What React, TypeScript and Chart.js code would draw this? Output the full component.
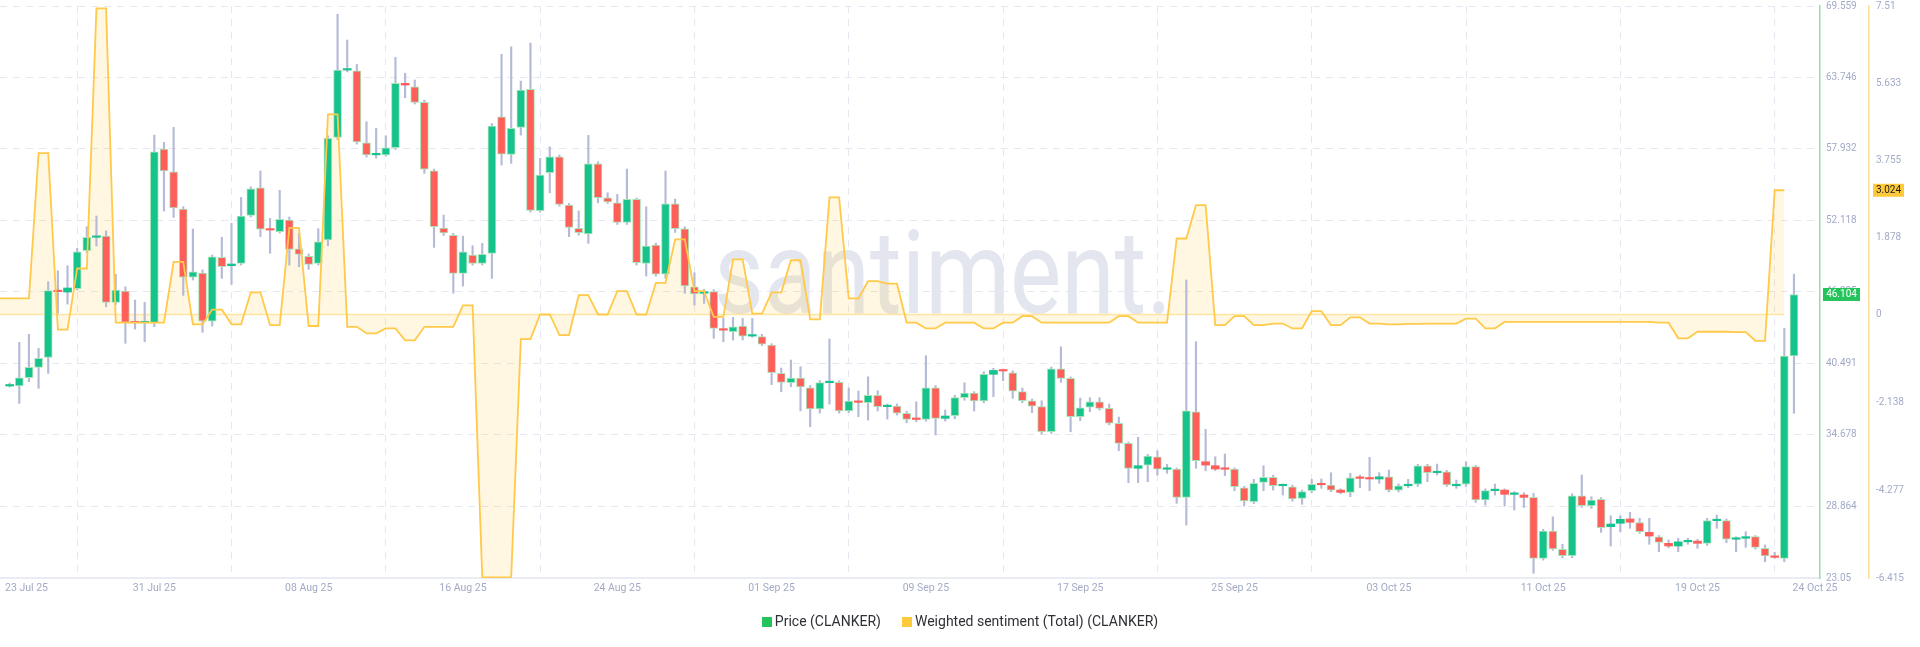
import React, { useEffect, useRef } from 'react';
import { Chart, registerables } from 'chart.js';

Chart.register(...registerables);

// ---- X axis (12h steps counted from 23 Jul 25 00:00) ----
const xTickValues = [0, 16, 32, 48, 64, 80, 96, 112, 128, 144, 160, 176];
const xTickLabels = ['23 Jul 25', '31 Jul 25', '08 Aug 25', '16 Aug 25', '24 Aug 25', '01 Sep 25', '09 Sep 25', '17 Sep 25', '25 Sep 25', '03 Oct 25', '11 Oct 25', '19 Oct 25'];
const lastDateLabel = '24 Oct 25';
const X_MAX = 188.7;

// ---- Y ticks ----
const priceTicks = [23.05, 28.864, 34.678, 40.491, 46.305, 52.118, 57.932, 63.746, 69.559];
const sentimentTicks = [-6.415, -4.277, -2.138, 0, 1.878, 3.755, 5.633, 7.51];

// ---- Price (CLANKER), 12h candles starting 23 Jul 25 12:00 ----
const opens = [
  38.66, 38.66, 39.33, 40.18, 40.99, 46.41, 46.30, 46.57, 49.66, 50.75,
  50.85, 45.46, 46.38, 43.84, 43.80, 43.80, 57.93, 56.08, 53.05, 47.52,
  47.85, 43.94, 49.12, 48.44, 48.63, 52.54, 54.78, 51.42, 51.20, 52.15,
  49.82, 49.20, 48.63, 50.53, 58.88, 64.35, 64.29, 58.44, 57.46, 57.46,
  58.03, 63.27, 62.99, 61.72, 56.16, 51.50, 50.91, 47.82, 49.31, 48.63,
  49.45, 60.55, 57.49, 59.69, 62.78, 52.91, 56.00, 57.30, 53.37, 51.48,
  51.02, 56.73, 53.97, 53.56, 51.97, 53.84, 48.63, 50.12, 47.76, 53.48,
  51.45, 46.73, 46.20, 46.33, 43.27, 43.07, 43.54, 42.72, 42.67, 41.99,
  39.69, 38.93, 39.31, 38.52, 36.79, 38.93, 38.96, 36.63, 37.44, 37.30,
  37.90, 36.98, 37.03, 36.44, 35.99, 35.95, 38.52, 36.03, 36.24, 37.71,
  38.09, 37.44, 39.61, 39.93, 39.74, 38.20, 37.46, 36.98, 34.94, 40.06,
  39.28, 36.16, 36.95, 37.38, 36.84, 35.63, 34.00, 31.97, 32.23, 32.91,
  31.89, 31.91, 29.61, 36.57, 32.50, 32.18, 31.91, 31.91, 30.39, 29.25,
  30.83, 31.24, 30.55, 30.47, 29.53, 30.15, 30.69, 30.61, 30.20, 30.01,
  31.20, 31.15, 31.10, 31.28, 30.20, 30.55, 30.67, 32.18, 31.61, 31.69,
  30.55, 30.67, 32.10, 29.39, 30.15, 30.20, 29.85, 29.80, 29.61, 24.65,
  26.87, 25.38, 24.86, 29.74, 28.93, 29.45, 27.22, 27.50, 27.85, 27.55,
  26.76, 26.40, 25.87, 25.65, 25.99, 26.05, 25.87, 27.71, 27.71, 26.20,
  26.28, 26.41, 25.46, 24.84, 24.65, 41.10
];
const highs = [
  38.90, 42.21, 42.86, 41.72, 47.14, 48.03, 48.44, 49.85, 51.61, 52.48,
  51.28, 47.74, 46.73, 45.65, 45.46, 59.06, 58.47, 59.69, 53.24, 51.42,
  48.10, 49.31, 50.75, 51.89, 53.99, 54.86, 56.14, 52.29, 54.57, 52.40,
  51.07, 49.40, 51.45, 59.00, 68.88, 66.79, 64.81, 60.15, 59.61, 59.01,
  65.38, 64.08, 63.54, 61.90, 56.30, 52.56, 51.07, 50.85, 50.07, 50.26,
  60.00, 65.63, 66.24, 63.45, 66.54, 57.17, 58.11, 57.44, 53.51, 52.89,
  59.04, 56.90, 54.37, 54.24, 56.30, 53.94, 53.24, 50.28, 56.14, 53.86,
  51.60, 47.87, 46.52, 46.50, 44.16, 44.24, 44.16, 44.16, 42.86, 42.10,
  40.12, 40.77, 40.23, 38.70, 39.10, 42.48, 39.09, 38.50, 38.25, 39.41,
  38.28, 37.20, 37.20, 36.60, 37.38, 41.12, 38.70, 36.71, 37.90, 38.93,
  38.20, 39.82, 40.10, 40.04, 39.90, 38.50, 37.60, 37.46, 40.20, 41.85,
  39.40, 37.68, 37.71, 37.71, 37.19, 36.14, 34.10, 34.49, 33.10, 33.40,
  32.29, 32.00, 47.28, 42.26, 35.14, 32.91, 33.13, 32.00, 30.50, 31.07,
  32.18, 31.40, 30.69, 30.60, 30.20, 31.07, 31.10, 31.61, 30.30, 31.56,
  31.42, 32.86, 31.61, 31.83, 30.70, 31.07, 32.30, 32.30, 32.31, 31.80,
  31.01, 32.50, 32.20, 30.30, 30.69, 30.30, 30.07, 29.98, 29.93, 27.00,
  28.03, 25.79, 29.90, 31.42, 29.66, 29.58, 28.11, 28.11, 28.39, 27.90,
  27.90, 26.50, 26.14, 26.28, 26.28, 26.20, 27.90, 28.17, 27.85, 26.40,
  26.81, 26.50, 25.73, 25.14, 43.35, 47.76
];
const lows = [
  38.58, 37.25, 39.01, 38.47, 39.69, 44.57, 45.32, 46.47, 49.50, 50.04,
  45.10, 45.30, 42.13, 43.29, 42.26, 43.48, 52.89, 52.37, 46.03, 47.28,
  43.02, 43.54, 47.41, 46.93, 48.50, 52.40, 50.80, 49.45, 51.10, 48.49,
  48.36, 48.15, 48.50, 50.07, 58.70, 64.20, 58.33, 57.28, 57.19, 57.36,
  57.90, 62.10, 61.59, 55.95, 49.93, 50.90, 46.20, 46.79, 48.49, 48.50,
  47.41, 56.63, 56.76, 59.06, 52.80, 52.80, 54.37, 53.29, 50.80, 50.93,
  50.26, 53.56, 53.50, 51.80, 51.80, 48.49, 47.60, 47.60, 47.41, 51.15,
  46.20, 45.24, 45.38, 42.54, 42.26, 42.40, 42.40, 42.62, 41.95, 38.77,
  38.19, 38.60, 36.63, 35.35, 36.46, 37.19, 36.46, 36.50, 36.16, 35.89,
  36.63, 35.97, 36.30, 35.67, 35.76, 35.80, 34.68, 35.81, 36.00, 37.50,
  36.63, 37.30, 37.79, 39.09, 37.66, 37.30, 36.49, 34.76, 34.80, 38.96,
  34.94, 35.84, 36.57, 36.70, 35.50, 33.40, 30.80, 30.80, 30.88, 31.42,
  31.56, 29.12, 27.36, 31.97, 31.77, 31.77, 31.37, 30.15, 28.90, 29.10,
  30.15, 30.20, 29.80, 29.30, 29.04, 30.00, 30.34, 30.07, 29.90, 29.66,
  30.39, 30.15, 30.75, 30.05, 30.05, 30.40, 30.50, 30.88, 31.42, 30.50,
  30.34, 30.50, 29.20, 28.98, 29.80, 28.90, 28.58, 28.79, 23.43, 24.50,
  25.30, 24.70, 24.70, 28.80, 28.71, 26.76, 25.65, 26.81, 27.09, 26.68,
  25.79, 25.19, 25.50, 25.19, 25.79, 25.46, 25.70, 27.09, 25.92, 25.19,
  25.54, 25.40, 24.37, 24.65, 24.37, 36.44
];
const closes = [
  38.70, 39.33, 40.18, 40.91, 46.41, 46.33, 46.63, 49.58, 50.75, 50.83,
  45.46, 46.46, 43.84, 43.80, 43.84, 57.71, 56.14, 53.15, 47.52, 47.95,
  43.94, 49.17, 48.36, 48.58, 52.48, 54.70, 51.42, 51.34, 52.21, 49.77,
  49.37, 48.55, 50.39, 58.80, 64.35, 64.40, 58.50, 57.46, 57.48, 58.03,
  63.27, 63.13, 61.72, 56.30, 51.61, 51.10, 47.82, 49.58, 48.63, 49.37,
  59.80, 57.52, 59.61, 62.72, 52.94, 55.81, 57.30, 53.43, 51.56, 51.12,
  56.73, 53.97, 53.62, 51.97, 53.84, 48.68, 50.04, 47.76, 53.48, 51.45,
  46.79, 46.14, 46.33, 43.35, 43.20, 43.48, 42.72, 42.74, 42.07, 39.74,
  38.96, 39.31, 38.58, 36.79, 38.93, 38.96, 36.63, 37.44, 37.33, 37.90,
  36.98, 37.03, 36.46, 35.95, 35.94, 38.52, 36.03, 36.22, 37.71, 38.09,
  37.44, 39.61, 39.93, 39.88, 38.25, 37.46, 37.03, 34.94, 40.06, 39.28,
  36.16, 36.89, 37.38, 36.84, 35.63, 34.00, 31.97, 32.18, 32.97, 31.89,
  31.91, 29.61, 36.65, 32.58, 32.23, 31.91, 31.89, 30.47, 29.31, 30.75,
  31.24, 30.55, 30.58, 29.47, 30.07, 30.67, 30.63, 30.20, 30.01, 31.20,
  31.15, 31.10, 31.28, 30.20, 30.55, 30.67, 32.18, 31.61, 31.69, 30.61,
  30.67, 32.10, 29.39, 30.15, 30.20, 29.85, 29.96, 29.61, 24.65, 26.87,
  25.41, 24.86, 29.74, 28.93, 29.39, 27.14, 27.44, 27.82, 27.58, 26.81,
  26.46, 25.95, 25.65, 25.99, 26.05, 25.87, 27.71, 27.76, 26.20, 26.25,
  26.41, 25.54, 24.84, 24.73, 41.10, 46.104
];

// ---- Weighted sentiment (Total) (CLANKER), daily from 23 Jul 25 ----
const sentimentDaily = [
  0.39, 0.39, 3.93, -0.37, 1.12, 7.45, -0.20, -0.20, -0.20, 1.28,
  -0.24, 0.12, -0.24, 0.54, -0.26, 2.11, -0.28, 4.87, -0.30, -0.46,
  -0.34, -0.63, -0.30, -0.30, 0.22, -6.40, -6.40, -0.60, 0.0, -0.50,
  0.47, 0.0, 0.57, 0.0, 0.77, 1.83, 0.57, -0.06, 1.34, 0.02,
  0.54, 1.32, -0.12, 2.85, 0.39, 0.81, 0.75, -0.20, -0.34, -0.20,
  -0.20, -0.34, -0.20, -0.04, -0.20, -0.20, -0.20, -0.20, -0.04, -0.20,
  -0.20, 1.85, 2.66, -0.26, -0.04, -0.26, -0.22, -0.34, 0.08, -0.26,
  -0.07, -0.22, -0.24, -0.23, -0.22, -0.22, -0.10, -0.34, -0.18, -0.18,
  -0.18, -0.18, -0.18, -0.18, -0.18, -0.18, -0.20, -0.58, -0.42, -0.42,
  -0.43, -0.64, 3.024
];

const GREEN = '#16c38c';
const RED = '#ff5e59';
const CANDLE_EDGE = '#a9e4b9';
const WICK = '#b5bbd6';
const SENT = '#ffc94a';
const SENT_FILL = 'rgba(255, 203, 71, 0.16)';
const TICK_COLOR = '#a2aac6';
const GRID = '#e5e8f0';
const FONT = 'Roboto, "Noto Sans", "DejaVu Sans", sans-serif';

const overlayPlugin = {
  id: 'overlay',
  beforeDatasetsDraw(chart: any) {
    const { ctx, chartArea } = chart;
    const w = chartArea.right - chartArea.left;
    ctx.save();
    ctx.font = '400 117px ' + FONT;
    ctx.fillStyle = '#e3e6ef';
    ctx.textBaseline = 'alphabetic';
    ctx.textAlign = 'left';
    const text = 'santiment.';
    const m = ctx.measureText(text).width;
    const target = w * 0.2516;
    const left = chartArea.left + w * 0.3923;
    const base = chartArea.top + (chartArea.bottom - chartArea.top) * 0.537;
    ctx.translate(left, base);
    ctx.scale(target / m, 1);
    ctx.fillText(text, 0, 0);
    ctx.restore();
  },
  afterDatasetDraw(chart: any, args: any) {
    if (args.index !== 0) return;
    const { ctx } = chart;
    const xs = chart.scales.x;
    const y2 = chart.scales.y2;
    const y0 = y2.getPixelForValue(0);
    const x0 = xs.getPixelForValue(0);
    const x1 = xs.getPixelForValue(sentimentDaily.length * 2 - 1);
    ctx.save();
    ctx.strokeStyle = 'rgba(255, 203, 71, 0.45)';
    ctx.lineWidth = 1.5;
    ctx.beginPath();
    ctx.moveTo(x0, y0);
    ctx.lineTo(x1, y0);
    ctx.stroke();
    ctx.restore();
  },
  afterDraw(chart: any) {
    const { ctx, chartArea } = chart;
    const xs = chart.scales.x;
    const ys = chart.scales.y;
    const y2 = chart.scales.y2;
    ctx.save();
    // x labels
    ctx.font = '10.5px ' + FONT;
    ctx.fillStyle = TICK_COLOR;
    ctx.textBaseline = 'middle';
    const ly = chartArea.bottom + 10;
    xTickValues.forEach((v, i) => {
      const px = xs.getPixelForValue(v);
      if (i === 0) {
        ctx.textAlign = 'left';
        ctx.fillText(xTickLabels[i], px + 5, ly);
      } else {
        ctx.textAlign = 'center';
        ctx.fillText(xTickLabels[i], px, ly);
      }
    });
    ctx.textAlign = 'center';
    ctx.fillText(lastDateLabel, xs.getPixelForValue(X_MAX) - 5, ly);

    // last value badges
    const lastPrice = closes[closes.length - 1];
    const py = ys.getPixelForValue(lastPrice);
    ctx.font = '10px ' + FONT;
    ctx.fillStyle = '#25c35c';
    ctx.fillRect(ys.left + 3, py - 6.5, 37, 13);
    ctx.fillStyle = '#ffffff';
    ctx.fillText(lastPrice.toFixed(3), ys.left + 3 + 18.5, py + 0.5);

    const lastSent = sentimentDaily[sentimentDaily.length - 1];
    const sy = y2.getPixelForValue(lastSent);
    ctx.fillStyle = '#ffc93c';
    ctx.fillRect(y2.left + 4, sy - 6.5, 31, 13);
    ctx.fillStyle = '#1c1c1c';
    ctx.fillText(lastSent.toFixed(3), y2.left + 4 + 15.5, sy + 0.5);
    ctx.restore();
  },
};

export default function App() {
  const ref = useRef<HTMLCanvasElement | null>(null);

  useEffect(() => {
    document.body.style.margin = '0';
    const canvas = ref.current;
    if (!canvas) return;

    const wickData = opens.map((_, i) => ({ x: i + 1, y: [lows[i], highs[i]] }));
    const bodyData = opens.map((o, i) => ({ x: i + 1, y: [o, closes[i]] }));
    const sentPts = sentimentDaily.flatMap((s, d) => [
      { x: 2 * d, y: s },
      { x: 2 * d + 1, y: s },
    ]);
    const isUp = (i: number) => closes[i] >= opens[i];

    const chart = new Chart(canvas, {
      type: 'bar',
      data: {
        datasets: [
          {
            type: 'line',
            label: 'sentiment-fill',
            data: sentPts,
            yAxisID: 'y2',
            borderWidth: 0,
            borderColor: 'rgba(0,0,0,0)',
            backgroundColor: SENT_FILL,
            fill: 'origin',
            pointRadius: 0,
            tension: 0,
            order: 5,
          } as any,
          {
            type: 'bar',
            label: 'wicks',
            data: wickData,
            yAxisID: 'y',
            backgroundColor: WICK,
            barThickness: 1.5,
            grouped: false,
            borderWidth: 0,
            order: 4,
          } as any,
          {
            type: 'bar',
            label: 'Price (CLANKER)',
            data: bodyData,
            yAxisID: 'y',
            backgroundColor: (c: any) => (isUp(c.dataIndex) ? GREEN : RED),
            borderColor: CANDLE_EDGE,
            borderWidth: (c: any) => (Math.abs(closes[c.dataIndex] - opens[c.dataIndex]) > 0.35 ? 1 : 0),
            borderSkipped: false,
            barThickness: 8,
            minBarLength: 1.5,
            grouped: false,
            order: 3,
          } as any,
          {
            type: 'line',
            label: 'Weighted sentiment (Total) (CLANKER)',
            data: sentPts,
            yAxisID: 'y2',
            borderColor: SENT,
            borderWidth: 1.8,
            fill: false,
            pointRadius: 0,
            tension: 0,
            order: 1,
          } as any,
        ],
      },
      options: {
        animation: false,
        responsive: true,
        maintainAspectRatio: false,
        events: [],
        layout: { padding: { top: 6, left: 0, right: 0, bottom: 0 } },
        plugins: {
          legend: { display: false },
          tooltip: { enabled: false },
        },
        scales: {
          x: {
            type: 'linear',
            min: 0,
            max: X_MAX,
            offset: false,
            afterBuildTicks: (s: any) => {
              s.ticks = xTickValues.map((v) => ({ value: v }));
            },
            afterFit: (s: any) => {
              s.height = 69;
              s.paddingLeft = 0;
              s.paddingRight = 0;
            },
            ticks: { display: false },
            grid: { color: GRID, drawTicks: false, lineWidth: 1 },
            border: { display: true, color: '#e9ecf2', width: 2, dash: [7, 6] },
          },
          y: {
            type: 'linear',
            position: 'right',
            weight: 0,
            min: priceTicks[0],
            max: priceTicks[priceTicks.length - 1],
            afterBuildTicks: (s: any) => {
              s.ticks = priceTicks.map((v) => ({ value: v }));
            },
            afterFit: (s: any) => {
              s.width = 49;
              s.paddingTop = 0;
              s.paddingBottom = 0;
            },
            ticks: {
              color: TICK_COLOR,
              font: { size: 10, family: FONT },
              padding: 6,
              callback: (v: any) => String(v),
            },
            grid: { color: GRID, drawTicks: false, lineWidth: 1 },
            border: { display: true, color: '#8fe2a5', width: 1.5, dash: [7, 6] },
          },
          y2: {
            type: 'linear',
            position: 'right',
            weight: 1,
            min: sentimentTicks[0],
            max: sentimentTicks[sentimentTicks.length - 1],
            afterBuildTicks: (s: any) => {
              s.ticks = sentimentTicks.map((v) => ({ value: v }));
            },
            afterFit: (s: any) => {
              s.width = 51;
              s.paddingTop = 0;
              s.paddingBottom = 0;
            },
            ticks: {
              color: TICK_COLOR,
              font: { size: 10, family: FONT },
              padding: 7,
              callback: (v: any) => String(v),
            },
            grid: { display: false, drawTicks: false },
            border: { display: true, color: '#ffdf98', width: 1.5 },
          },
        },
      } as any,
      plugins: [overlayPlugin as any],
    });

    return () => chart.destroy();
  }, []);

  const legendItem = (color: string, text: string) => (
    <div style={{ display: 'flex', alignItems: 'center' }}>
      <span style={{ display: 'inline-block', width: 10, height: 10, background: color, marginRight: 3 }} />
      <span>{text}</span>
    </div>
  );

  return (
    <div style={{ position: 'relative', width: 1920, height: 647, background: '#ffffff', overflow: 'hidden' }}>
      <canvas ref={ref} style={{ position: 'absolute', left: 0, top: 0, width: 1920, height: 647 }} />
      <div
        style={{
          position: 'absolute',
          left: 0,
          top: 613,
          width: 1920,
          display: 'flex',
          justifyContent: 'center',
          gap: 21,
          fontFamily: FONT,
          fontSize: 14,
          lineHeight: '17px',
          color: '#2e3036',
        }}
      >
        {legendItem('#25c35c', 'Price (CLANKER)')}
        {legendItem('#ffc93c', 'Weighted sentiment (Total) (CLANKER)')}
      </div>
    </div>
  );
}
